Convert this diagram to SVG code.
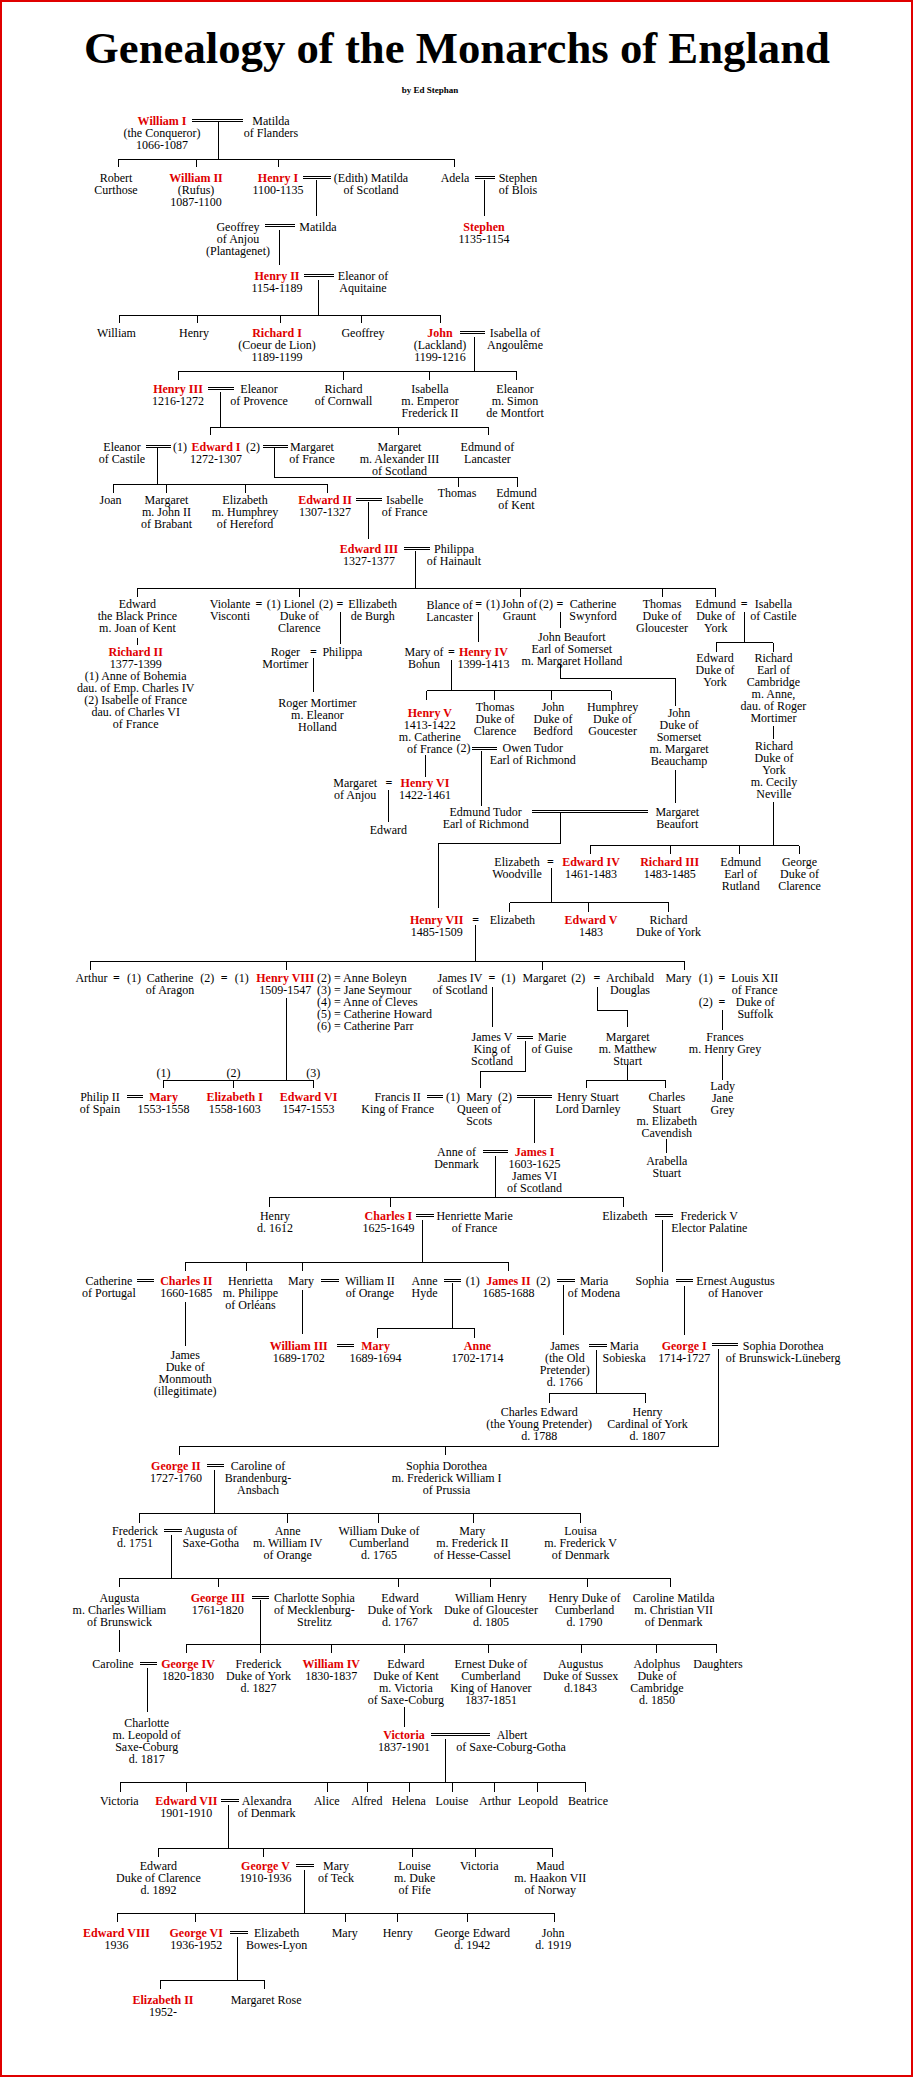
<svg xmlns="http://www.w3.org/2000/svg" width="913" height="2077" viewBox="0 0 913 2077">
<style>
text{font-family:"Liberation Serif","Times New Roman",serif;font-size:12px;text-anchor:middle;fill:#000}
.r{fill:#e00000;font-weight:bold}
.l{text-anchor:start}
.eq{font-weight:bold}
#conn path{fill:none;stroke:#000;stroke-width:1;shape-rendering:crispEdges}
</style>
<rect x="1" y="1" width="911" height="2075" fill="#fff" stroke="#e00000" stroke-width="2"/>
<text x="457" y="63" style="font-size:44px;font-weight:bold" textLength="746" lengthAdjust="spacingAndGlyphs">Genealogy of the Monarchs of England</text>
<text x="430" y="93" style="font-size:9px;font-weight:bold">by Ed Stephan</text>
<g id="conn">
<path d="M192 119H243M192 121H243M218 122V159M118 159H454M118 159V167M196 159V167M278 159V167M454 159V167"/>
<path d="M303 176H331M303 178H331M316 180V216M475 176H495M475 178H495M484.5 180V216"/>
<path d="M265 224H295M265 226H295M279.5 230V265"/>
<path d="M304 274H334M304 276H334M318.5 280V315M119.4 315H441M119.4 315V323M197.4 315V323M280.7 315V323M361.6 315V323M440.8 315V323"/>
<path d="M460 331H485M460 333H485M474.6 337V371M178 371H516.5M178 371V380M343.6 371V380M429.7 371V380M516.5 371V380"/>
<path d="M208 387H234M208 389H234M220.7 392V427.3M210.8 427.3H488M210.8 427.3V435M398.3 427.3V435M488 427.3V435"/>
<path d="M145.6 445H170.6M145.6 447H170.6M263 445H288M263 447H288M157.8 448V484.3M113 484.3H327.3M113 484.3V493M166.5 484.3V493M245 484.3V493M327.3 484.3V493M274 448V477H517M458.3 477V486.7M517 477V486.7"/>
<path d="M356 498H382M356 500H382M368 502V539"/>
<path d="M403.6 547H430M403.6 549H430M415 551V588M137.4 588H715.7M137.4 588V596.7M299.3 588V596.7M520.6 588V596.7M662 588V596.7M715.7 588V596.7"/>
<path d="M137.4 638V645M340 612V644.3M478.7 612V642.3M560 612V627.7M744.2 612V642.7M716.3 642.7H773.4M716.3 642.7V651.7M773.4 642.7V651.7M313.3 658V691.7"/>
<path d="M560 665V678.3H675.5V706M451.3 660V690.7M426.9 690.7H611M426.9 690.7V700M494.4 690.7V700M551.5 690.7V700M611 690.7V700"/>
<path d="M471.7 747H496.7M471.7 749H496.7M675.5 770V802.7M773.4 726V739.3M773.4 802.3V845.7M425.7 755V777.3M388.4 790V822.3M481.6 750.7V806"/>
<path d="M532.3 810H648M532.3 812H648M560 813V843.3H438V908.3M590 845.7H799M590 845.7V854.3M670.9 845.7V854.3M739.6 845.7V854.3M799 845.7V854.3"/>
<path d="M551.5 868V902.7M509.5 902.7H668.5M509.5 902.7V911.7M588.7 902.7V911.7M668.5 902.7V911.7"/>
<path d="M475.7 925V961M90.3 961H684.2M90.3 961V970M286.5 961V970M542.7 961V970M684.2 961V970"/>
<path d="M286.5 998V1080M163.6 1080H313.3M163.6 1080V1088.3M233.5 1080V1088.3M313.3 1080V1088.3M492 987V1026.7M597 987V1010H627.7V1026.7M722 1010V1030"/>
<path d="M516.5 1036H533M516.5 1038H533M525.8 1041V1071.7H480.4V1088.3M627.7 1065V1080M586.4 1080H665.6M586.4 1080V1088.3M665.6 1080V1088.3M722.6 1055V1080"/>
<path d="M127 1095H143.3M127 1097H143.3M426.8 1095H442.6M426.8 1097H442.6M517 1095H552M517 1097H552M534.5 1099V1142.7M666.8 1139.3V1152.7"/>
<path d="M483.3 1150H508.4M483.3 1152H508.4M495 1156V1197.7M269 1197.7H623.6M269 1197.7V1206.7M390.2 1197.7V1206.7M623.6 1197.7V1206.7"/>
<path d="M416.4 1214H433.8M416.4 1216H433.8M654.5 1214H672.6M654.5 1216H672.6M422.8 1220V1262M185.8 1262H508.4M185.8 1262V1271M246.3 1262V1271M302.2 1262V1271M508.4 1262V1271M662.7 1220V1271.7"/>
<path d="M137.4 1279H154.3M137.4 1281H154.3M321.4 1279H338.9M321.4 1281H338.9M443.7 1279H461.2M443.7 1281H461.2M557.3 1279H574.8M557.3 1281H574.8M675.5 1279H693M675.5 1281H693"/>
<path d="M185.8 1302V1345.7M302.2 1290V1334M452.4 1283V1328.3M377.3 1328.3H474.6M377.3 1328.3V1337.7M474.6 1328.3V1337.7M563 1285V1335M684.2 1286V1335"/>
<path d="M336.6 1344H353.5M336.6 1346H353.5M589.3 1344H606.8M589.3 1346H606.8M711.7 1343H737.8M711.7 1345H737.8M596.9 1350V1393.3M549 1393.3H645.2M549 1393.3V1402.7M645.2 1393.3V1402.7M718.6 1349V1446H179.4M179.4 1446V1455M445.5 1446V1455"/>
<path d="M206.7 1464H224.2M206.7 1466H224.2M214.9 1470V1513.3M139.8 1513.3H580.6M139.8 1513.3V1522.7M287.7 1513.3V1522.7M378.5 1513.3V1522.7M473.4 1513.3V1522.7M580.6 1513.3V1522.7"/>
<path d="M164.2 1529H181.7M164.2 1531H181.7M171.8 1535V1578.3M119.4 1578.3H670.2M119.4 1578.3V1586.7M218.4 1578.3V1586.7M398.9 1578.3V1586.7M490.3 1578.3V1586.7M587.5 1578.3V1586.7M670.2 1578.3V1586.7"/>
<path d="M251.6 1596H269M251.6 1598H269M119.4 1630V1652.3M260.3 1600V1644.3M186.3 1644.3H716.8M186.3 1644.3V1653.3M260.3 1644.3V1653.3M331.3 1644.3V1653.3M404.7 1644.3V1653.3M488.5 1644.3V1653.3M581.7 1644.3V1653.3M656.9 1644.3V1653.3M716.8 1644.3V1653.3"/>
<path d="M139.8 1662H157.2M139.8 1664H157.2M147.3 1668.3V1711.7M404 1706.7V1726.7M431 1733H490.3M431 1735H490.3"/>
<path d="M445 1739V1782.3M120.5 1782.3H585.8M120.5 1782.3V1791.7M186.3 1782.3V1791.7M327.3 1782.3V1791.7M367.4 1782.3V1791.7M409.4 1782.3V1791.7M452.5 1782.3V1791.7M494.4 1782.3V1791.7M537.5 1782.3V1791.7M585.8 1782.3V1791.7"/>
<path d="M221.3 1799H238.7M221.3 1801H238.7M228.8 1805V1848.3M158.4 1848.3H552M158.4 1848.3V1857.3M263.2 1848.3V1857.3M412.3 1848.3V1857.3M475.2 1848.3V1857.3M552 1848.3V1857.3"/>
<path d="M295.8 1864H314.4M295.8 1866H314.4M304.5 1870V1913.3M117 1913.3H554.3M117 1913.3V1922M195.7 1913.3V1922M345.9 1913.3V1922M397.7 1913.3V1922M467.6 1913.3V1922M554.3 1913.3V1922"/>
<path d="M230 1931H247.5M230 1933H247.5M237.6 1937V1980M160.7 1980H264.4M160.7 1980V1989.3M264.4 1980V1989.3"/>
</g>
<g id="n-william1"><text x="162" y="125"><tspan class="r">William I</tspan><tspan x="162" dy="12">(the Conqueror)</tspan><tspan x="162" dy="12">1066-1087</tspan></text></g>
<g id="n-matilda1"><text x="271" y="125">Matilda<tspan x="271" dy="12">of Flanders</tspan></text></g>
<g id="n-robert"><text x="116" y="182">Robert<tspan x="116" dy="12">Curthose</tspan></text></g>
<g id="n-william2"><text x="196" y="182"><tspan class="r">William II</tspan><tspan x="196" dy="12">(Rufus)</tspan><tspan x="196" dy="12">1087-1100</tspan></text></g>
<g id="n-henry1"><text x="278" y="182"><tspan class="r">Henry I</tspan><tspan x="278" dy="12">1100-1135</tspan></text></g>
<g id="n-edith"><text x="371" y="182">(Edith) Matilda<tspan x="371" dy="12">of Scotland</tspan></text></g>
<g id="n-adela"><text x="455" y="182">Adela</text></g>
<g id="n-stephenblois"><text x="518" y="182">Stephen<tspan x="518" dy="12">of Blois</tspan></text></g>
<g id="n-geoffrey"><text x="238" y="231">Geoffrey<tspan x="238" dy="12">of Anjou</tspan><tspan x="238" dy="12">(Plantagenet)</tspan></text></g>
<g id="n-matilda2"><text x="318" y="231">Matilda</text></g>
<g id="n-stephen"><text x="484" y="231"><tspan class="r">Stephen</tspan><tspan x="484" dy="12">1135-1154</tspan></text></g>
<g id="n-henry2"><text x="277" y="280"><tspan class="r">Henry II</tspan><tspan x="277" dy="12">1154-1189</tspan></text></g>
<g id="n-eleanoraq"><text x="363" y="280">Eleanor of<tspan x="363" dy="12">Aquitaine</tspan></text></g>
<g id="n-williamh2"><text x="116.5" y="337">William</text></g>
<g id="n-henryh2"><text x="194" y="337">Henry</text></g>
<g id="n-richard1"><text x="277" y="337"><tspan class="r">Richard I</tspan><tspan x="277" dy="12">(Coeur de Lion)</tspan><tspan x="277" dy="12">1189-1199</tspan></text></g>
<g id="n-geoffreyh2"><text x="363" y="337">Geoffrey</text></g>
<g id="n-john"><text x="440" y="337"><tspan class="r">John</tspan><tspan x="440" dy="12">(Lackland)</tspan><tspan x="440" dy="12">1199-1216</tspan></text></g>
<g id="n-isabellaang"><text x="515" y="337">Isabella of<tspan x="515" dy="12">Angoulême</tspan></text></g>
<g id="n-henry3"><text x="178" y="393"><tspan class="r">Henry III</tspan><tspan x="178" dy="12">1216-1272</tspan></text></g>
<g id="n-eleanorprov"><text x="259" y="393">Eleanor<tspan x="259" dy="12">of Provence</tspan></text></g>
<g id="n-richardcorn"><text x="343.6" y="393">Richard<tspan x="343.6" dy="12">of Cornwall</tspan></text></g>
<g id="n-isabellaemp"><text x="430" y="393">Isabella<tspan x="430" dy="12">m. Emperor</tspan><tspan x="430" dy="12">Frederick II</tspan></text></g>
<g id="n-eleanormont"><text x="515" y="393">Eleanor<tspan x="515" dy="12">m. Simon</tspan><tspan x="515" dy="12">de Montfort</tspan></text></g>
<g id="n-eleanorcast"><text x="122" y="451">Eleanor<tspan x="122" dy="12">of Castile</tspan></text></g>
<g id="n-edward1"><text x="180" y="451">(1)</text><text x="216" y="451"><tspan class="r">Edward I</tspan><tspan x="216" dy="12">1272-1307</tspan></text><text x="253" y="451">(2)</text></g>
<g id="n-margaretfr"><text x="312" y="451">Margaret<tspan x="312" dy="12">of France</tspan></text></g>
<g id="n-margaretalex"><text x="399.5" y="451">Margaret<tspan x="399.5" dy="12">m. Alexander III</tspan><tspan x="399.5" dy="12">of Scotland</tspan></text></g>
<g id="n-edmundlanc"><text x="487.4" y="451">Edmund of<tspan x="487.4" dy="12">Lancaster</tspan></text></g>
<g id="n-joan"><text x="110.6" y="504">Joan</text></g>
<g id="n-margaretbrab"><text x="166.5" y="504">Margaret<tspan x="166.5" dy="12">m. John II</tspan><tspan x="166.5" dy="12">of Brabant</tspan></text></g>
<g id="n-elizabethhere"><text x="245" y="504">Elizabeth<tspan x="245" dy="12">m. Humphrey</tspan><tspan x="245" dy="12">of Hereford</tspan></text></g>
<g id="n-edward2"><text x="325" y="504"><tspan class="r">Edward II</tspan><tspan x="325" dy="12">1307-1327</tspan></text></g>
<g id="n-isabellefr"><text x="404.7" y="504">Isabelle<tspan x="404.7" dy="12">of France</tspan></text></g>
<g id="n-thomas"><text x="457" y="497">Thomas</text></g>
<g id="n-edmundkent"><text x="516.5" y="497">Edmund<tspan x="516.5" dy="12">of Kent</tspan></text></g>
<g id="n-edward3"><text x="369" y="553"><tspan class="r">Edward III</tspan><tspan x="369" dy="12">1327-1377</tspan></text></g>
<g id="n-philippa"><text x="454" y="553">Philippa<tspan x="454" dy="12">of Hainault</tspan></text></g>
<g id="n-blackprince"><text x="137.4" y="608">Edward<tspan x="137.4" dy="12">the Black Prince</tspan><tspan x="137.4" dy="12">m. Joan of Kent</tspan></text></g>
<g id="n-violante"><text x="230" y="608">Violante<tspan x="230" dy="12">Visconti</tspan></text><text class="eq" x="259" y="608">=</text></g>
<g id="n-lionel"><text x="273.7" y="608">(1)</text><text x="299.3" y="608">Lionel<tspan x="299.3" dy="12">Duke of</tspan><tspan x="299.3" dy="12">Clarence</tspan></text><text x="326" y="608">(2)</text><text class="eq" x="340" y="608">=</text></g>
<g id="n-ellizabeth"><text x="372.7" y="608">Ellizabeth<tspan x="372.7" dy="12">de Burgh</tspan></text></g>
<g id="n-blance"><text x="449.6" y="609">Blance of<tspan x="449.6" dy="12">Lancaster</tspan></text><text class="eq" x="478.7" y="608">=</text></g>
<g id="n-johngaunt"><text x="493" y="608">(1)</text><text x="519.4" y="608">John of<tspan x="519.4" dy="12">Graunt</tspan></text><text x="546" y="608">(2)</text><text class="eq" x="560" y="608">=</text></g>
<g id="n-catherinesw"><text x="593" y="608">Catherine<tspan x="593" dy="12">Swynford</tspan></text></g>
<g id="n-thomasglou"><text x="662" y="608">Thomas<tspan x="662" dy="12">Duke of</tspan><tspan x="662" dy="12">Gloucester</tspan></text></g>
<g id="n-edmundyork"><text x="715.7" y="608">Edmund<tspan x="715.7" dy="12">Duke of</tspan><tspan x="715.7" dy="12">York</tspan></text><text class="eq" x="744.2" y="608">=</text></g>
<g id="n-isabellacast"><text x="773.4" y="608">Isabella<tspan x="773.4" dy="12">of Castile</tspan></text></g>
<g id="n-richard2"><text x="135.7" y="656"><tspan class="r">Richard II</tspan><tspan x="135.7" dy="12">1377-1399</tspan><tspan x="135.7" dy="12">(1) Anne of Bohemia</tspan><tspan x="135.7" dy="12">dau. of Emp. Charles IV</tspan><tspan x="135.7" dy="12">(2) Isabelle of France</tspan><tspan x="135.7" dy="12">dau. of Charles VI</tspan><tspan x="135.7" dy="12">of France</tspan></text></g>
<g id="n-rogermort"><text x="285.3" y="656">Roger<tspan x="285.3" dy="12">Mortimer</tspan></text><text class="eq" x="313.3" y="656">=</text></g>
<g id="n-philippa2"><text x="342.4" y="656">Philippa</text></g>
<g id="n-rogermort2"><text x="317.4" y="706.5">Roger Mortimer<tspan x="317.4" dy="12">m. Eleanor</tspan><tspan x="317.4" dy="12">Holland</tspan></text></g>
<g id="n-johnbeaufort"><text x="571.8" y="641.3">John Beaufort<tspan x="571.8" dy="12">Earl of Somerset</tspan><tspan x="571.8" dy="12">m. Margaret Holland</tspan></text></g>
<g id="n-marybohun"><text x="424" y="656">Mary of<tspan x="424" dy="12">Bohun</tspan></text><text class="eq" x="451.3" y="656">=</text></g>
<g id="n-henry4"><text x="483.4" y="656"><tspan class="r">Henry IV</tspan><tspan x="483.4" dy="12">1399-1413</tspan></text></g>
<g id="n-edwardyork"><text x="715" y="662">Edward<tspan x="715" dy="12">Duke of</tspan><tspan x="715" dy="12">York</tspan></text></g>
<g id="n-richardcamb"><text x="773.4" y="662">Richard<tspan x="773.4" dy="12">Earl of</tspan><tspan x="773.4" dy="12">Cambridge</tspan><tspan x="773.4" dy="12">m. Anne,</tspan><tspan x="773.4" dy="12">dau. of Roger</tspan><tspan x="773.4" dy="12">Mortimer</tspan></text></g>
<g id="n-henry5"><text x="429.8" y="716.7"><tspan class="r">Henry V</tspan><tspan x="429.8" dy="12">1413-1422</tspan><tspan x="429.8" dy="12">m. Catherine</tspan><tspan x="429.8" dy="12">of France</tspan></text><text x="463.5" y="752.3">(2)</text></g>
<g id="n-thomasclar"><text x="495" y="710.7">Thomas<tspan x="495" dy="12">Duke of</tspan><tspan x="495" dy="12">Clarence</tspan></text></g>
<g id="n-johnbedford"><text x="553" y="710.7">John<tspan x="553" dy="12">Duke of</tspan><tspan x="553" dy="12">Bedford</tspan></text></g>
<g id="n-humphrey"><text x="612.6" y="710.7">Humphrey<tspan x="612.6" dy="12">Duke of</tspan><tspan x="612.6" dy="12">Goucester</tspan></text></g>
<g id="n-johnsomerset"><text x="679" y="717.3">John<tspan x="679" dy="12">Duke of</tspan><tspan x="679" dy="12">Somerset</tspan><tspan x="679" dy="12">m. Margaret</tspan><tspan x="679" dy="12">Beauchamp</tspan></text></g>
<g id="n-owentudor"><text x="532.8" y="752.3">Owen Tudor<tspan x="532.8" dy="12">Earl of Richmond</tspan></text></g>
<g id="n-richardyork"><text x="774" y="750">Richard<tspan x="774" dy="12">Duke of</tspan><tspan x="774" dy="12">York</tspan><tspan x="774" dy="12">m. Cecily</tspan><tspan x="774" dy="12">Neville</tspan></text></g>
<g id="n-margaretanjou"><text x="355.2" y="787.3">Margaret<tspan x="355.2" dy="12">of Anjou</tspan></text><text class="eq" x="389" y="787.3">=</text></g>
<g id="n-henry6"><text x="425" y="787.3"><tspan class="r">Henry VI</tspan><tspan x="425" dy="12">1422-1461</tspan></text></g>
<g id="n-edwardh6"><text x="388.4" y="834">Edward</text></g>
<g id="n-edmundtudor"><text x="485.7" y="816.3">Edmund Tudor<tspan x="485.7" dy="12">Earl of Richmond</tspan></text></g>
<g id="n-margaretbeaufort"><text x="677.3" y="816.3">Margaret<tspan x="677.3" dy="12">Beaufort</tspan></text></g>
<g id="n-elizabethwood"><text x="517" y="866.3">Elizabeth<tspan x="517" dy="12">Woodville</tspan></text><text class="eq" x="550.3" y="866.3">=</text></g>
<g id="n-edward4"><text x="591" y="866.3"><tspan class="r">Edward IV</tspan><tspan x="591" dy="12">1461-1483</tspan></text></g>
<g id="n-richard3"><text x="669.7" y="866.3"><tspan class="r">Richard III</tspan><tspan x="669.7" dy="12">1483-1485</tspan></text></g>
<g id="n-edmundrut"><text x="740.7" y="866.3">Edmund<tspan x="740.7" dy="12">Earl of</tspan><tspan x="740.7" dy="12">Rutland</tspan></text></g>
<g id="n-georgeclar"><text x="799.5" y="866.3">George<tspan x="799.5" dy="12">Duke of</tspan><tspan x="799.5" dy="12">Clarence</tspan></text></g>
<g id="n-henry7"><text x="436.7" y="924"><tspan class="r">Henry VII</tspan><tspan x="436.7" dy="12">1485-1509</tspan></text><text class="eq" x="475.7" y="924">=</text></g>
<g id="n-elizabethy"><text x="512.4" y="924">Elizabeth</text></g>
<g id="n-edward5"><text x="591" y="924"><tspan class="r">Edward V</tspan><tspan x="591" dy="12">1483</tspan></text></g>
<g id="n-richardyork2"><text x="668.5" y="924">Richard<tspan x="668.5" dy="12">Duke of York</tspan></text></g>
<g id="n-arthur"><text x="91.4" y="982.3">Arthur</text><text class="eq" x="116.5" y="982.3">=</text><text x="134" y="982.3">(1)</text></g>
<g id="n-catherinearagon"><text x="170" y="982.3">Catherine<tspan x="170" dy="12">of Aragon</tspan></text><text x="207.3" y="982.3">(2)</text><text class="eq" x="224.2" y="982.3">=</text><text x="241.7" y="982.3">(1)</text></g>
<g id="n-henry8"><text x="285.3" y="982.3"><tspan class="r">Henry VIII</tspan><tspan x="285.3" dy="12">1509-1547</tspan></text><text class="l" x="317" y="982.3">(2) = Anne Boleyn<tspan x="317" dy="12">(3) = Jane Seymour</tspan><tspan x="317" dy="12">(4) = Anne of Cleves</tspan><tspan x="317" dy="12">(5) = Catherine Howard</tspan><tspan x="317" dy="12">(6) = Catherine Parr</tspan></text></g>
<g id="n-james4"><text x="460" y="982.3">James IV<tspan x="460" dy="12">of Scotland</tspan></text><text class="eq" x="492" y="982.3">=</text><text x="508.4" y="982.3">(1)</text></g>
<g id="n-margarettudor"><text x="544.5" y="982.3">Margaret</text><text x="578.3" y="982.3">(2)</text><text class="eq" x="597" y="982.3">=</text></g>
<g id="n-archibald"><text x="630" y="982.3">Archibald<tspan x="630" dy="12">Douglas</tspan></text></g>
<g id="n-marytudor"><text x="678.4" y="982.3">Mary</text><text x="705.8" y="982.3">(1)</text><text class="eq" x="722" y="982.3">=</text><text x="705.8" y="1006.3">(2)</text><text class="eq" x="722" y="1006.3">=</text></g>
<g id="n-louis12"><text x="754.7" y="982.3">Louis XII<tspan x="754.7" dy="12">of France</tspan></text></g>
<g id="n-suffolk"><text x="755.3" y="1006.3">Duke of<tspan x="755.3" dy="12">Suffolk</tspan></text></g>
<g id="n-james5"><text x="492" y="1041.3">James V<tspan x="492" dy="12">King of</tspan><tspan x="492" dy="12">Scotland</tspan></text></g>
<g id="n-marieguise"><text x="552" y="1041.3">Marie<tspan x="552" dy="12">of Guise</tspan></text></g>
<g id="n-margaretstuart"><text x="627.7" y="1040.7">Margaret<tspan x="627.7" dy="12">m. Matthew</tspan><tspan x="627.7" dy="12">Stuart</tspan></text></g>
<g id="n-frances"><text x="725" y="1041.3">Frances<tspan x="725" dy="12">m. Henry Grey</tspan></text></g>
<g id="n-wives"><text x="163.6" y="1077">(1)</text><text x="233.5" y="1077">(2)</text><text x="313.3" y="1077">(3)</text></g>
<g id="n-philip2"><text x="100" y="1101.3">Philip II<tspan x="100" dy="12">of Spain</tspan></text></g>
<g id="n-mary1"><text x="163.6" y="1101.3"><tspan class="r">Mary</tspan><tspan x="163.6" dy="12">1553-1558</tspan></text></g>
<g id="n-elizabeth1"><text x="234.7" y="1101.3"><tspan class="r">Elizabeth I</tspan><tspan x="234.7" dy="12">1558-1603</tspan></text></g>
<g id="n-edward6"><text x="308.6" y="1101.3"><tspan class="r">Edward VI</tspan><tspan x="308.6" dy="12">1547-1553</tspan></text></g>
<g id="n-francis2"><text x="397.7" y="1101.3">Francis II<tspan x="397.7" dy="12">King of France</tspan></text></g>
<g id="n-maryscots"><text x="453" y="1101.3">(1)</text><text x="479.2" y="1101.3">Mary<tspan x="479.2" dy="12">Queen of</tspan><tspan x="479.2" dy="12">Scots</tspan></text><text x="504.9" y="1101.3">(2)</text></g>
<g id="n-darnley"><text x="588" y="1101.3">Henry Stuart<tspan x="588" dy="12">Lord Darnley</tspan></text></g>
<g id="n-charlesstuart"><text x="666.8" y="1101.3">Charles<tspan x="666.8" dy="12">Stuart</tspan><tspan x="666.8" dy="12">m. Elizabeth</tspan><tspan x="666.8" dy="12">Cavendish</tspan></text></g>
<g id="n-janegrey"><text x="722.6" y="1090">Lady<tspan x="722.6" dy="12">Jane</tspan><tspan x="722.6" dy="12">Grey</tspan></text></g>
<g id="n-arabella"><text x="666.8" y="1165">Arabella<tspan x="666.8" dy="12">Stuart</tspan></text></g>
<g id="n-annedenmark"><text x="456.5" y="1156">Anne of<tspan x="456.5" dy="12">Denmark</tspan></text></g>
<g id="n-james1"><text x="534.5" y="1156"><tspan class="r">James I</tspan><tspan x="534.5" dy="12">1603-1625</tspan><tspan x="534.5" dy="12">James VI</tspan><tspan x="534.5" dy="12">of Scotland</tspan></text></g>
<g id="n-henryj1"><text x="274.9" y="1220">Henry<tspan x="274.9" dy="12">d. 1612</tspan></text></g>
<g id="n-charles1"><text x="388.4" y="1220"><tspan class="r">Charles I</tspan><tspan x="388.4" dy="12">1625-1649</tspan></text></g>
<g id="n-henriette"><text x="474.6" y="1220">Henriette Marie<tspan x="474.6" dy="12">of France</tspan></text></g>
<g id="n-elizabethboh"><text x="624.8" y="1220">Elizabeth</text></g>
<g id="n-frederick5"><text x="709.3" y="1220">Frederick V<tspan x="709.3" dy="12">Elector Palatine</tspan></text></g>
<g id="n-catherinept"><text x="108.9" y="1285">Catherine<tspan x="108.9" dy="12">of Portugal</tspan></text></g>
<g id="n-charles2"><text x="186.3" y="1285"><tspan class="r">Charles II</tspan><tspan x="186.3" dy="12">1660-1685</tspan></text></g>
<g id="n-henrietta"><text x="250.4" y="1285">Henrietta<tspan x="250.4" dy="12">m. Philippe</tspan><tspan x="250.4" dy="12">of Orléans</tspan></text></g>
<g id="n-marystuart"><text x="301" y="1285">Mary</text></g>
<g id="n-william2orange"><text x="369.8" y="1285">William II<tspan x="369.8" dy="12">of Orange</tspan></text></g>
<g id="n-annehyde"><text x="424.5" y="1285">Anne<tspan x="424.5" dy="12">Hyde</tspan></text><text x="472.8" y="1285">(1)</text></g>
<g id="n-james2"><text x="508.4" y="1285"><tspan class="r">James II</tspan><tspan x="508.4" dy="12">1685-1688</tspan></text><text x="543.3" y="1285">(2)</text></g>
<g id="n-mariamodena"><text x="594" y="1285">Maria<tspan x="594" dy="12">of Modena</tspan></text></g>
<g id="n-sophia"><text x="652.2" y="1285">Sophia</text></g>
<g id="n-ernest"><text x="735.5" y="1285">Ernest Augustus<tspan x="735.5" dy="12">of Hanover</tspan></text></g>
<g id="n-monmouth"><text x="185.2" y="1359">James<tspan x="185.2" dy="12">Duke of</tspan><tspan x="185.2" dy="12">Monmouth</tspan><tspan x="185.2" dy="12">(illegitimate)</tspan></text></g>
<g id="n-william3"><text x="298.7" y="1349.7"><tspan class="r">William III</tspan><tspan x="298.7" dy="12">1689-1702</tspan></text></g>
<g id="n-mary2"><text x="375.6" y="1349.7"><tspan class="r">Mary</tspan><tspan x="375.6" dy="12">1689-1694</tspan></text></g>
<g id="n-anne"><text x="477.5" y="1349.7"><tspan class="r">Anne</tspan><tspan x="477.5" dy="12">1702-1714</tspan></text></g>
<g id="n-oldpretender"><text x="564.8" y="1349.7">James<tspan x="564.8" dy="12">(the Old</tspan><tspan x="564.8" dy="12">Pretender)</tspan><tspan x="564.8" dy="12">d. 1766</tspan></text></g>
<g id="n-sobieska"><text x="624.2" y="1349.7">Maria<tspan x="624.2" dy="12">Sobieska</tspan></text></g>
<g id="n-george1"><text x="684.2" y="1349.7"><tspan class="r">George I</tspan><tspan x="684.2" dy="12">1714-1727</tspan></text></g>
<g id="n-sophiadorothea"><text x="783.2" y="1349.7">Sophia Dorothea<tspan x="783.2" dy="12">of Brunswick-Lüneberg</tspan></text></g>
<g id="n-charlesedward"><text x="539.2" y="1416.3">Charles Edward<tspan x="539.2" dy="12">(the Young Pretender)</tspan><tspan x="539.2" dy="12">d. 1788</tspan></text></g>
<g id="n-henrycardinal"><text x="647.5" y="1416.3">Henry<tspan x="647.5" dy="12">Cardinal of York</tspan><tspan x="647.5" dy="12">d. 1807</tspan></text></g>
<g id="n-george2"><text x="175.9" y="1470"><tspan class="r">George II</tspan><tspan x="175.9" dy="12">1727-1760</tspan></text></g>
<g id="n-caroline"><text x="258" y="1470">Caroline of<tspan x="258" dy="12">Brandenburg-</tspan><tspan x="258" dy="12">Ansbach</tspan></text></g>
<g id="n-sophiaprussia"><text x="446.6" y="1470">Sophia Dorothea<tspan x="446.6" dy="12">m. Frederick William I</tspan><tspan x="446.6" dy="12">of Prussia</tspan></text></g>
<g id="n-frederick"><text x="135.1" y="1535">Frederick<tspan x="135.1" dy="12">d. 1751</tspan></text></g>
<g id="n-augustasg"><text x="210.8" y="1535">Augusta of<tspan x="210.8" dy="12">Saxe-Gotha</tspan></text></g>
<g id="n-anneorange"><text x="287.7" y="1535">Anne<tspan x="287.7" dy="12">m. William IV</tspan><tspan x="287.7" dy="12">of Orange</tspan></text></g>
<g id="n-williamcumb"><text x="379" y="1535">William Duke of<tspan x="379" dy="12">Cumberland</tspan><tspan x="379" dy="12">d. 1765</tspan></text></g>
<g id="n-maryhesse"><text x="472.3" y="1535">Mary<tspan x="472.3" dy="12">m. Frederick II</tspan><tspan x="472.3" dy="12">of Hesse-Cassel</tspan></text></g>
<g id="n-louisa"><text x="580.6" y="1535">Louisa<tspan x="580.6" dy="12">m. Frederick V</tspan><tspan x="580.6" dy="12">of Denmark</tspan></text></g>
<g id="n-augustabr"><text x="119.4" y="1601.7">Augusta<tspan x="119.4" dy="12">m. Charles William</tspan><tspan x="119.4" dy="12">of Brunswick</tspan></text></g>
<g id="n-george3"><text x="217.8" y="1601.7"><tspan class="r">George III</tspan><tspan x="217.8" dy="12">1761-1820</tspan></text></g>
<g id="n-charlotte"><text x="314.4" y="1601.7">Charlotte Sophia<tspan x="314.4" dy="12">of Mecklenburg-</tspan><tspan x="314.4" dy="12">Strelitz</tspan></text></g>
<g id="n-edwardyork3"><text x="400" y="1601.7">Edward<tspan x="400" dy="12">Duke of York</tspan><tspan x="400" dy="12">d. 1767</tspan></text></g>
<g id="n-williamhenry"><text x="490.9" y="1601.7">William Henry<tspan x="490.9" dy="12">Duke of Gloucester</tspan><tspan x="490.9" dy="12">d. 1805</tspan></text></g>
<g id="n-henrycumb"><text x="584.6" y="1601.7">Henry Duke of<tspan x="584.6" dy="12">Cumberland</tspan><tspan x="584.6" dy="12">d. 1790</tspan></text></g>
<g id="n-carolinematilda"><text x="673.7" y="1601.7">Caroline Matilda<tspan x="673.7" dy="12">m. Christian VII</tspan><tspan x="673.7" dy="12">of Denmark</tspan></text></g>
<g id="n-carolinebr"><text x="113" y="1668.3">Caroline</text></g>
<g id="n-george4"><text x="188" y="1668.3"><tspan class="r">George IV</tspan><tspan x="188" dy="12">1820-1830</tspan></text></g>
<g id="n-frederickyork"><text x="258.5" y="1668.3">Frederick<tspan x="258.5" dy="12">Duke of York</tspan><tspan x="258.5" dy="12">d. 1827</tspan></text></g>
<g id="n-william4"><text x="331.3" y="1668.3"><tspan class="r">William IV</tspan><tspan x="331.3" dy="12">1830-1837</tspan></text></g>
<g id="n-edwardkent"><text x="405.9" y="1668.3">Edward<tspan x="405.9" dy="12">Duke of Kent</tspan><tspan x="405.9" dy="12">m. Victoria</tspan><tspan x="405.9" dy="12">of Saxe-Coburg</tspan></text></g>
<g id="n-ernestcumb"><text x="490.9" y="1668.3">Ernest Duke of<tspan x="490.9" dy="12">Cumberland</tspan><tspan x="490.9" dy="12">King of Hanover</tspan><tspan x="490.9" dy="12">1837-1851</tspan></text></g>
<g id="n-augustus"><text x="580.6" y="1668.3">Augustus<tspan x="580.6" dy="12">Duke of Sussex</tspan><tspan x="580.6" dy="12">d.1843</tspan></text></g>
<g id="n-adolphus"><text x="656.9" y="1668.3">Adolphus<tspan x="656.9" dy="12">Duke of</tspan><tspan x="656.9" dy="12">Cambridge</tspan><tspan x="656.9" dy="12">d. 1850</tspan></text></g>
<g id="n-daughters"><text x="718" y="1668.3">Daughters</text></g>
<g id="n-charlotteleo"><text x="146.7" y="1726.7">Charlotte<tspan x="146.7" dy="12">m. Leopold of</tspan><tspan x="146.7" dy="12">Saxe-Coburg</tspan><tspan x="146.7" dy="12">d. 1817</tspan></text></g>
<g id="n-victoria"><text x="404" y="1739"><tspan class="r">Victoria</tspan><tspan x="404" dy="12">1837-1901</tspan></text></g>
<g id="n-albert"><text x="512" y="1739">Albert<tspan x="511" dy="12">of Saxe-Coburg-Gotha</tspan></text></g>
<g id="n-vchildren"><text x="119.4" y="1805.3">Victoria</text><text x="326.7" y="1805.3">Alice</text><text x="366.8" y="1805.3">Alfred</text><text x="408.8" y="1805.3">Helena</text><text x="451.9" y="1805.3">Louise</text><text x="495" y="1805.3">Arthur</text><text x="538" y="1805.3">Leopold</text><text x="588" y="1805.3">Beatrice</text></g>
<g id="n-edward7"><text x="186.3" y="1805.3"><tspan class="r">Edward VII</tspan><tspan x="186.3" dy="12">1901-1910</tspan></text></g>
<g id="n-alexandra"><text x="266.7" y="1805.3">Alexandra<tspan x="266.7" dy="12">of Denmark</tspan></text></g>
<g id="n-edwardclar"><text x="158.4" y="1870.3">Edward<tspan x="158.4" dy="12">Duke of Clarence</tspan><tspan x="158.4" dy="12">d. 1892</tspan></text></g>
<g id="n-george5"><text x="265.5" y="1870.3"><tspan class="r">George V</tspan><tspan x="265.5" dy="12">1910-1936</tspan></text></g>
<g id="n-maryteck"><text x="336" y="1870.3">Mary<tspan x="336" dy="12">of Teck</tspan></text></g>
<g id="n-louisefife"><text x="414.6" y="1870.3">Louise<tspan x="414.6" dy="12">m. Duke</tspan><tspan x="414.6" dy="12">of Fife</tspan></text></g>
<g id="n-victoria3"><text x="479.2" y="1870.3">Victoria</text></g>
<g id="n-maud"><text x="550.3" y="1870.3">Maud<tspan x="550.3" dy="12">m. Haakon VII</tspan><tspan x="550.3" dy="12">of Norway</tspan></text></g>
<g id="n-edward8"><text x="116.5" y="1937.3"><tspan class="r">Edward VIII</tspan><tspan x="116.5" dy="12">1936</tspan></text></g>
<g id="n-george6"><text x="196.2" y="1937.3"><tspan class="r">George VI</tspan><tspan x="196.2" dy="12">1936-1952</tspan></text></g>
<g id="n-elizabethbl"><text x="276.6" y="1937.3">Elizabeth<tspan x="276.6" dy="12">Bowes-Lyon</tspan></text></g>
<g id="n-maryg5"><text x="344.7" y="1937.3">Mary</text></g>
<g id="n-henryg5"><text x="397.7" y="1937.3">Henry</text></g>
<g id="n-georgeedward"><text x="472.3" y="1937.3">George Edward<tspan x="472.3" dy="12">d. 1942</tspan></text></g>
<g id="n-johng5"><text x="553.2" y="1937.3">John<tspan x="553.2" dy="12">d. 1919</tspan></text></g>
<g id="n-elizabeth2"><text x="163" y="2004.3"><tspan class="r">Elizabeth II</tspan><tspan x="163" dy="12">1952-</tspan></text></g>
<g id="n-margaretrose"><text x="266.1" y="2004.3">Margaret Rose</text></g>
</svg>
